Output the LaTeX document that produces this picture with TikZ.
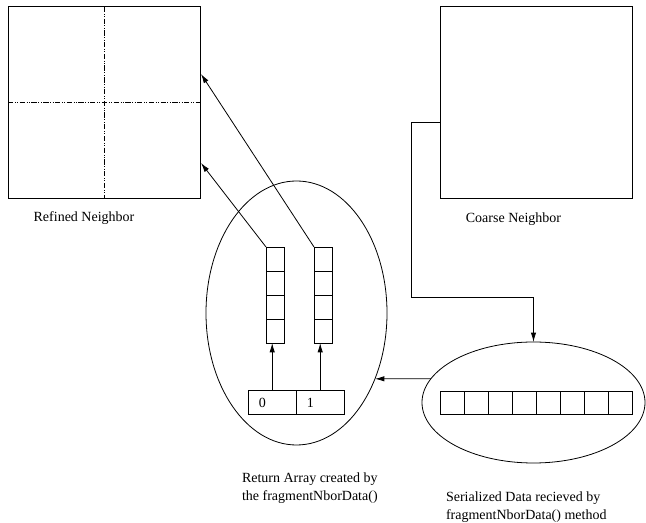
\documentclass[tikz,border=0pt]{standalone}
\usepackage{fontspec}
\setmainfont{Liberation Serif}
\usetikzlibrary{shapes.geometric,arrows.meta}
\begin{document}
\begin{tikzpicture}[x=0.75pt,y=-0.75pt,
  every node/.style={inner sep=0pt,outer sep=0pt},
  line/.style={line width=0.6pt},
  arr/.style={line width=0.6pt,-{Latex[length=7pt,width=4pt]}},
  bigbox/.style={draw,line width=0.6pt,minimum width=144pt,minimum height=143.5pt},
  colcell/.style={draw,line width=0.6pt,minimum width=13.5pt,minimum height=18pt},
  idxcell/.style={draw,line width=0.6pt,minimum width=36pt,minimum height=17.7pt,
    inner xsep=8pt,text width=20pt,align=left,font=\fontsize{10.5}{12}\selectfont},
  sercell/.style={draw,line width=0.6pt,minimum width=18pt,minimum height=17.25pt},
  oval/.style={draw,ellipse,line width=0.6pt},
  lbl/.style={font=\fontsize{10.5}{13.5}\selectfont,align=left},
  dashdot/.style={line width=0.5pt,dash pattern=on 4pt off 1.2pt on 0.6pt off 1.2pt on 0.6pt off 1.2pt}]
\useasboundingbox (0,0) rectangle (646,523);

% boxes
\node[bigbox] (refined) at (104,102.5) {};
\node[bigbox] (coarse) at (536,102.5) {};
\draw[dashdot] (refined.north) -- (refined.south);
\draw[dashdot] (refined.west) -- (refined.east);
\node[lbl] (reflbl) at (84,218) {Refined Neighbor};
\node[lbl] (coalbl) at (513.5,219) {Coarse Neighbor};

% ellipses
\node[oval,minimum width=135.75pt,minimum height=198pt] (ret) at (296.5,313) {};
\node[oval,minimum width=167.25pt,minimum height=90.75pt] (ser) at (533.5,402.5) {};

% columns
\foreach \i/\y in {a/259,b/283,c/307,d/331}{
  \node[colcell] (c1\i) at (275,\y) {};
  \node[colcell] (c2\i) at (323,\y) {};
}
% index array
\node[idxcell] (a0) at (272.2,402.5) {0};
\node[idxcell] (a1) at (320.2,402.5) {1};

% serialized cells
\foreach \k in {0,...,7}{
  \node[sercell] (s\k) at ({452+24*\k},402.5) {};
}

% labels
\node[lbl,anchor=north west] (retlbl) at (242,473) {Return Array created by\\the fragmentNborData()};
\node[lbl,anchor=north west] (serlbl) at (446,492) {Serialized Data recieved by\\fragmentNborData() method};

% connectors
\coordinate (t1) at (201,163);
\coordinate (t2) at (201,74);
\draw[arr] (c1a.north west) -- (t1);
\draw[arr] (c2a.north west) -- (t2);
\draw[arr] (a0.north) -- (a0.north |- c1d.south);
\draw[arr] (a1.north) -- (a1.north |- c2d.south);
\coordinate (cw) at (440,122);
\coordinate (bend1) at (411,122);
\coordinate (bend2) at (411,297);
\draw[arr] (cw) -- (bend1) -- (bend2) -| (ser.north);
\draw[arr] (ser.167) -- (ret.-40);
\end{tikzpicture}
\end{document}
